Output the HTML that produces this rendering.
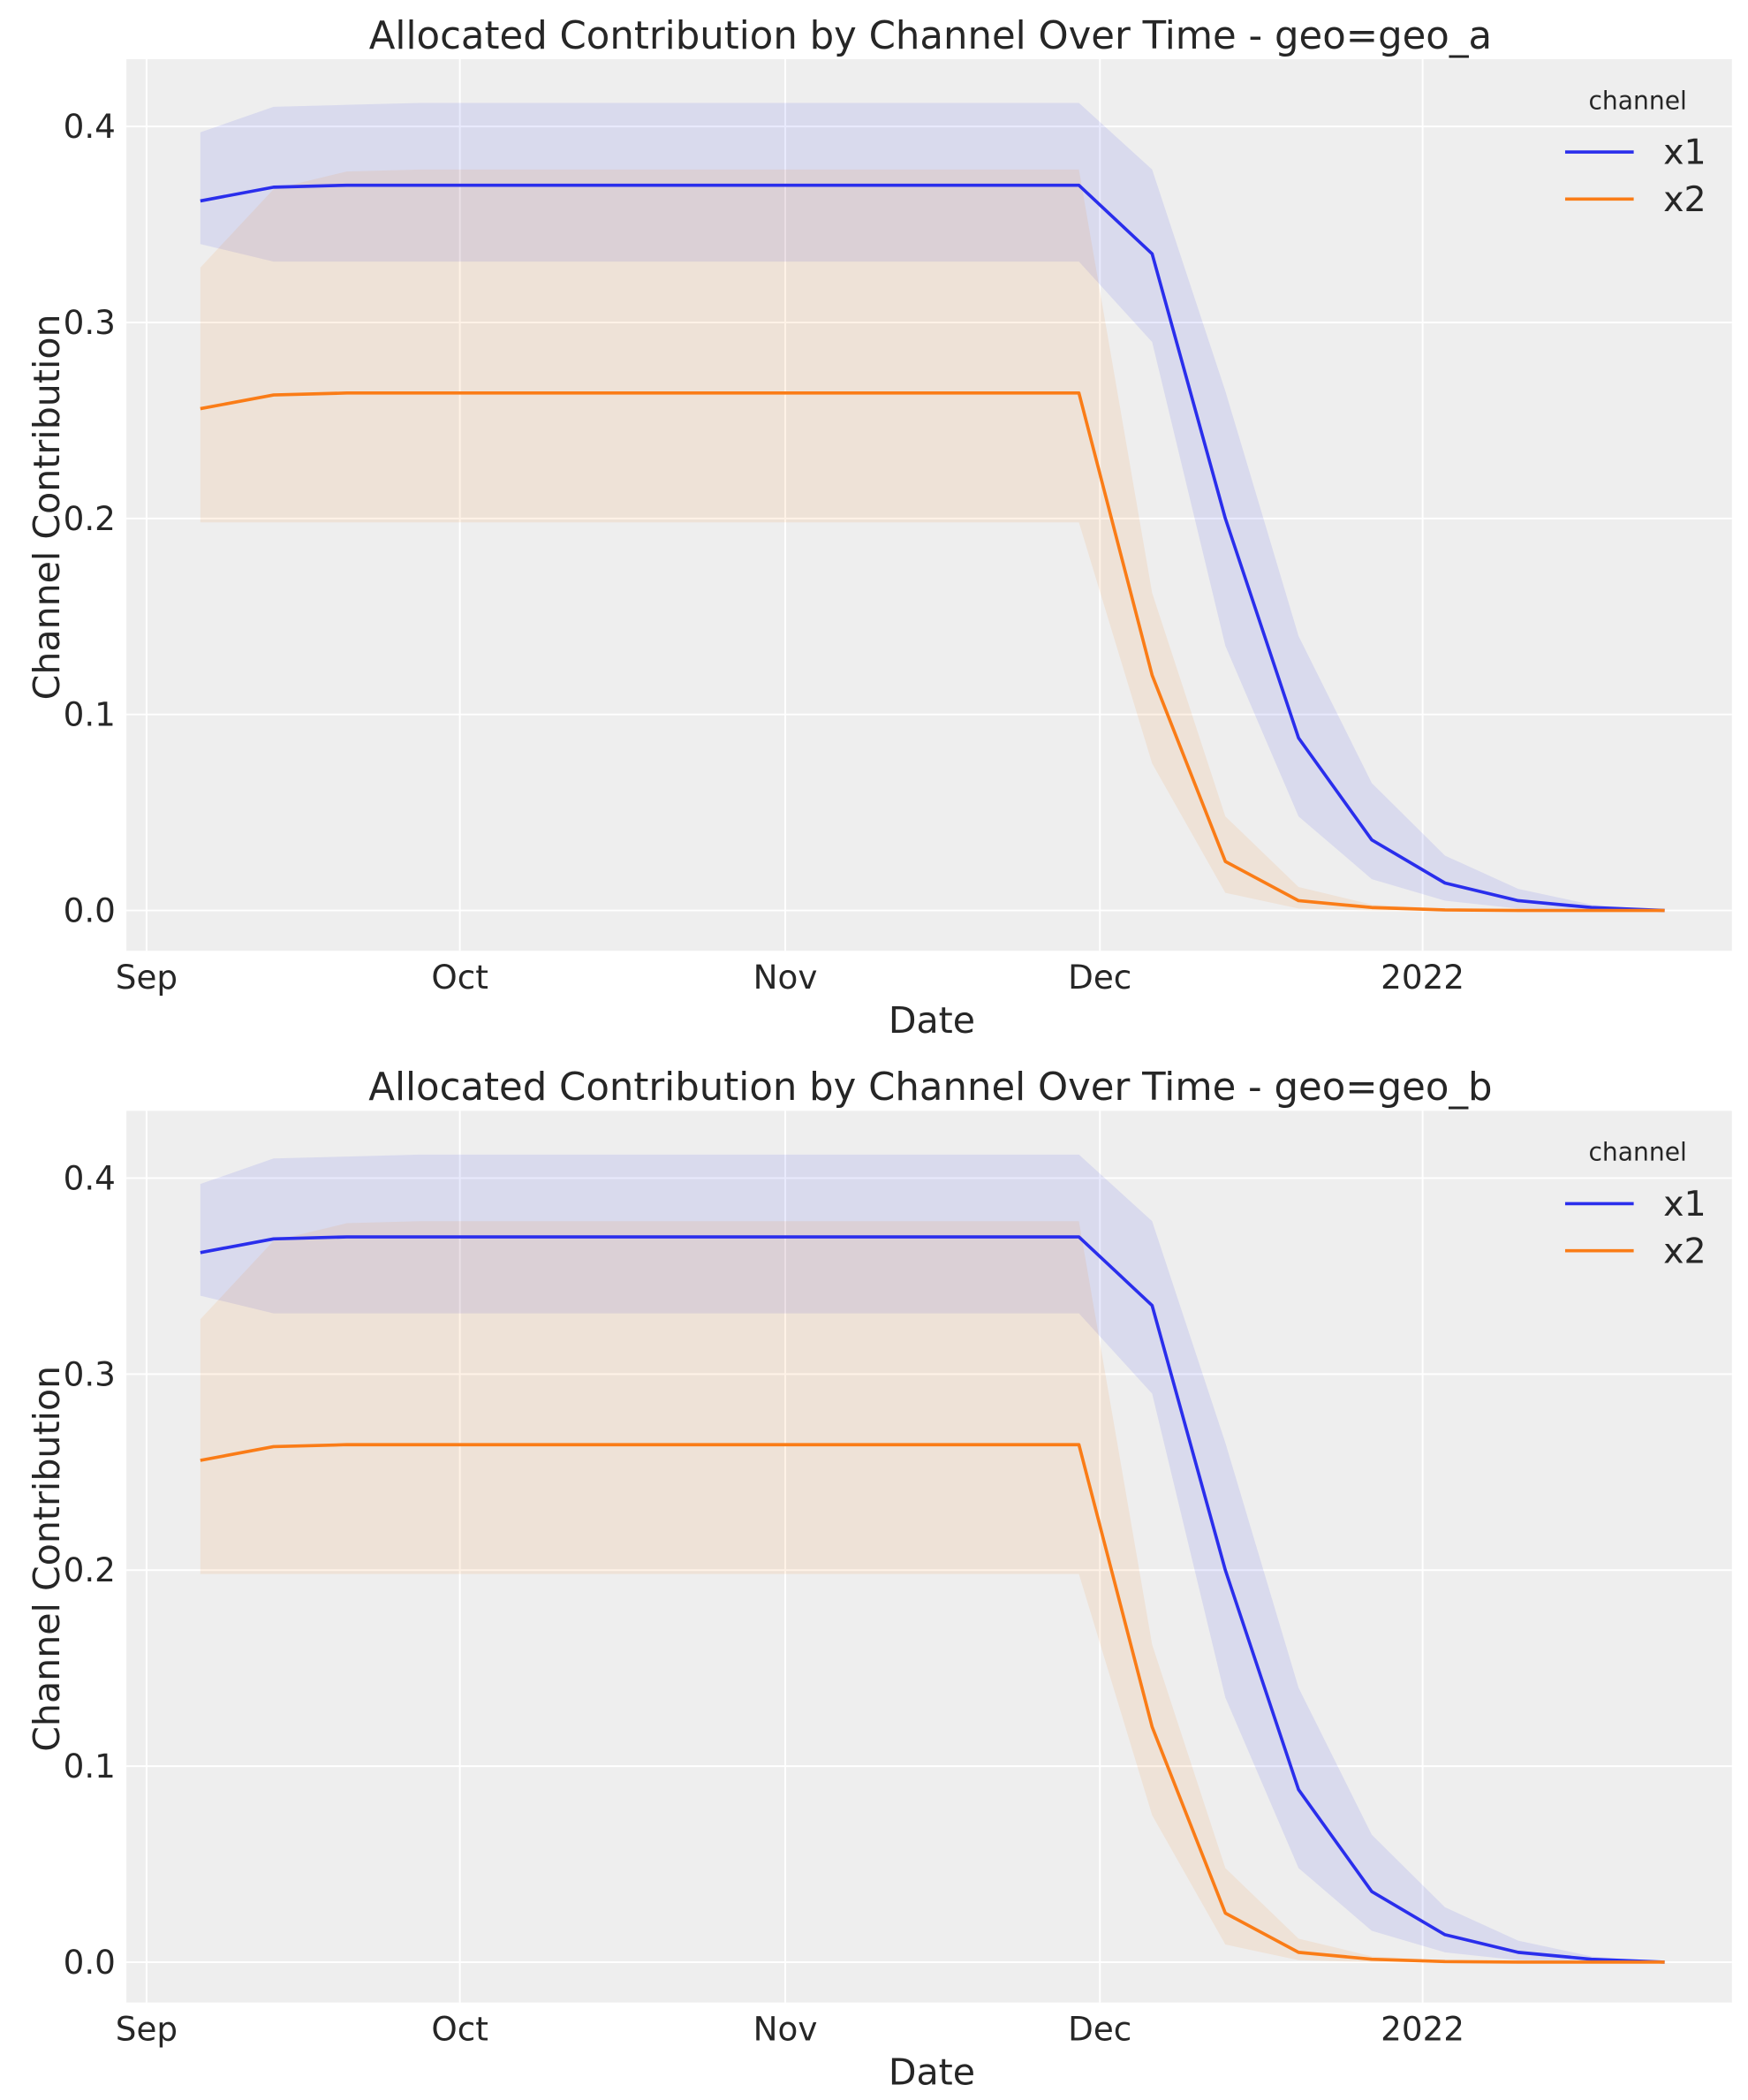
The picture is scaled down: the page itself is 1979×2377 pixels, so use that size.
<!DOCTYPE html>
<html><head><meta charset="utf-8"><style>
html,body{margin:0;padding:0;background:#fff}
svg{display:block;font-family:"DejaVu Sans","Liberation Sans",sans-serif}
</style></head><body>
<svg id="s" width="1979" height="2377" viewBox="0 0 1300 1561.5" preserveAspectRatio="none" xmlns="http://www.w3.org/2000/svg"></svg>
<script>
const B=[.362,.369,.370,.370,.370,.370,.370,.370,.370,.370,.370,.370,.370,.335,.200,.088,.036,.014,.005,.0015,0];
const BU=[.397,.410,.411,.412,.412,.412,.412,.412,.412,.412,.412,.412,.412,.378,.265,.140,.065,.028,.011,.003,0];
const BL=[.340,.331,.331,.331,.331,.331,.331,.331,.331,.331,.331,.331,.331,.290,.135,.048,.016,.005,.001,0,0];
const O=[.256,.263,.264,.264,.264,.264,.264,.264,.264,.264,.264,.264,.264,.120,.025,.005,.0015,.0003,0,0,0];
const OU=[.328,.368,.377,.378,.378,.378,.378,.378,.378,.378,.378,.378,.378,.162,.048,.012,.003,.001,0,0,0];
const OL=[.198,.198,.198,.198,.198,.198,.198,.198,.198,.198,.198,.198,.198,.075,.009,.001,0,0,0,0,0];
let h='';
function panel(off,geo){
  const Y=v=>off+677-v*1457.5, X=i=>149+54.45*i;
  h+=`<rect x="94" y="${off+44}" width="1194" height="${663}" fill="#eeeeee"/>`;
  [[109,'Sep'],[342,'Oct'],[584,'Nov'],[818,'Dec'],[1058,'2022']].forEach(([x,t])=>{
    h+=`<line x1="${x}" x2="${x}" y1="${off+44}" y2="${off+707}" stroke="#fff" stroke-width="1.3"/>`;
    h+=`<text x="${x}" y="${off+735}" font-size="24.5" fill="#262626" text-anchor="middle">${t}</text>`;});
  for(let k=0;k<=4;k++){const y=Y(k/10);
    h+=`<line x1="94" x2="1288" y1="${y}" y2="${y}" stroke="#fff" stroke-width="1.3"/>`;
    h+=`<text x="86" y="${y+8.5}" font-size="24.5" fill="#262626" text-anchor="end">${(k/10).toFixed(1)}</text>`;}
  const band=(U,L,c)=>{let p='M'+U.map((v,i)=>X(i)+','+Y(v)).join('L');
    p+='L'+L.map((v,i)=>X(i)+','+Y(v)).reverse().join('L')+'Z';
    h+=`<path d="${p}" fill="${c}" fill-opacity="0.1"/>`;};
  band(BU,BL,'#2a2eec');band(OU,OL,'#fa7c17');
  const line=(D,c)=>{h+=`<polyline points="${D.map((v,i)=>X(i)+','+Y(v)).join(' ')}" fill="none" stroke="${c}" stroke-width="2.4" stroke-linejoin="round"/>`;};
  line(B,'#2a2eec');line(O,'#fa7c17');
  h+=`<text x="692" y="${off+36}" font-size="28.5" fill="#262626" text-anchor="middle">Allocated Contribution by Channel Over Time - geo=${geo}</text>`;
  h+=`<text x="693" y="${off+768}" font-size="27" fill="#262626" text-anchor="middle">Date</text>`;
  h+=`<text transform="translate(44,${off+377}) rotate(-90)" font-size="27" fill="#262626" text-anchor="middle">Channel Contribution</text>`;
  h+=`<text x="1218" y="${off+81}" font-size="18.5" fill="#262626" text-anchor="middle">channel</text>`;
  h+=`<line x1="1164" x2="1215" y1="${off+113}" y2="${off+113}" stroke="#2a2eec" stroke-width="2.4"/>`;
  h+=`<line x1="1164" x2="1215" y1="${off+148}" y2="${off+148}" stroke="#fa7c17" stroke-width="2.4"/>`;
  h+=`<text x="1237" y="${off+122}" font-size="26" fill="#262626">x1</text>`;
  h+=`<text x="1237" y="${off+157}" font-size="26" fill="#262626">x2</text>`;
}
panel(0,'geo_a');panel(782,'geo_b');
document.getElementById('s').innerHTML=h;
</script>
</body></html>
